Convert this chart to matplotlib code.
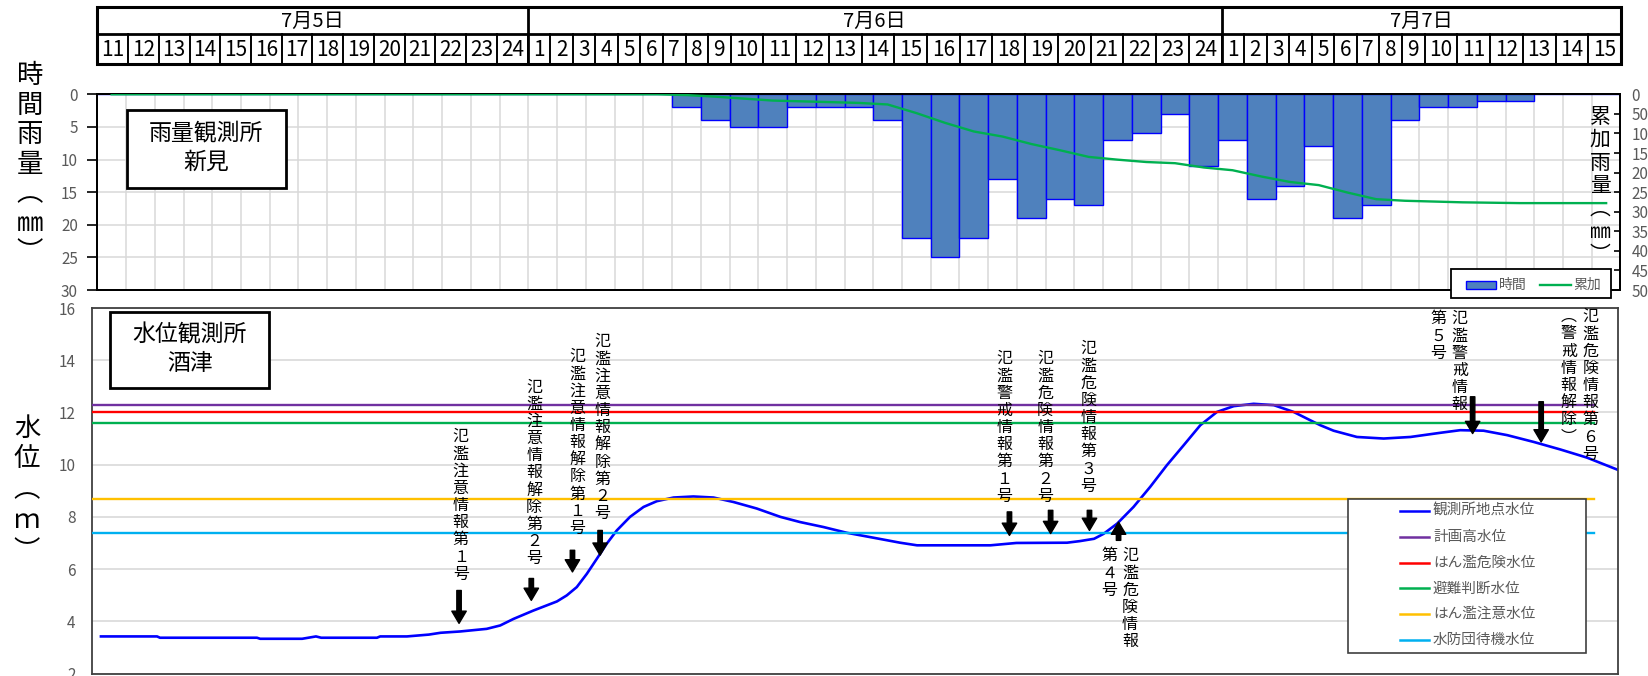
import numpy as np
import matplotlib
matplotlib.use("Agg")
import matplotlib.pyplot as plt
from matplotlib import transforms
from matplotlib.patches import Rectangle
from matplotlib.lines import Line2D

plt.rcParams['font.family'] = ['Noto Sans CJK JP', 'DejaVu Sans']

W, H = 1649, 676

# --- data ---
dates = ['7月5日', '7月6日', '7月7日']
hours_0705 = [11, 12, 13, 14, 15, 16, 17, 18, 19, 20, 21, 22, 23, 24]
hours_0706 = list(range(1, 25))
hours_0707 = list(range(1, 16))

# hourly rainfall (mm) at 新見, one value per hour column
rain_0705 = [0, 0, 0, 0, 0, 0, 0, 0, 0, 0, 0, 0, 0, 0]
rain_0706 = [0, 0, 0, 0, 0, 0, 2, 4, 5, 5, 2, 2, 2, 4, 22, 25, 22, 13, 19, 16, 17, 7, 6, 3]
rain_0707 = [11, 7, 16, 14, 8, 19, 17, 4, 2, 2, 1, 1, 0, 0, 0]

# water level at 酒津, hours since 7/5 10:00
wl_t = [0.30, 2.25, 2.35, 5.72, 5.83, 7.29, 7.77, 7.95, 9.89, 10.0, 10.93, 11.69,
        12.10, 12.78, 13.70, 14.17, 14.63, 15.32, 16.14, 16.48, 16.83, 17.18, 17.53,
        17.87, 18.22, 18.68, 19.15, 19.61, 20.19, 20.88, 21.58, 22.27, 23.08, 23.90,
        24.59, 25.40, 26.21, 27.14, 28.06, 28.65, 31.20, 32.10, 33.86, 34.30, 34.80,
        35.13, 35.60, 36.17, 36.75, 37.33, 37.91, 38.49, 39.07, 39.65, 40.34, 41.04,
        41.73, 42.31, 42.66, 43.12, 43.93, 44.86, 45.79, 46.83, 47.52, 48.33, 49.15,
        50.07, 51.00, 51.92, 53.02]
wl_m = [3.42, 3.42, 3.37, 3.37, 3.33, 3.33, 3.42, 3.37, 3.37, 3.42, 3.42, 3.49,
        3.56, 3.61, 3.71, 3.84, 4.09, 4.41, 4.76, 4.99, 5.31, 5.82, 6.40,
        6.97, 7.48, 8.00, 8.38, 8.60, 8.74, 8.78, 8.74, 8.57, 8.32, 8.00,
        7.80, 7.61, 7.39, 7.20, 7.01, 6.91, 6.91, 7.00, 7.01, 7.07, 7.16,
        7.35, 7.74, 8.38, 9.15, 9.98, 10.74, 11.51, 12.02, 12.24, 12.33, 12.28,
        12.02, 11.70, 11.51, 11.30, 11.06, 11.00, 11.06, 11.22, 11.32, 11.30, 11.13,
        10.87, 10.58, 10.27, 9.79]

level_names = ['計画高水位', 'はん濫危険水位', '避難判断水位', 'はん濫注意水位', '水防団待機水位']
level_values = [12.3, 12.0, 11.6, 8.7, 7.4]
level_t = [0.0, 52.15]

# flood information notices: arrow (time, tail, tip), text columns (text, time, top level)
notices = [
    (12.74, 5.18, 3.92, [('氾濫注意情報第１号', 12.80, 11.40)]),
    (15.25, 5.64, 4.80, [('氾濫注意情報解除第２号', 15.35, 13.31)]),
    (16.68, 6.72, 5.89, [('氾濫注意情報解除第１号', 16.85, 14.47)]),
    (17.64, 7.48, 6.53, [('氾濫注意情報解除第２号', 17.73, 15.04)]),
    (31.86, 8.19, 7.29, [('氾濫警戒情報第１号', 31.68, 14.39)]),
    (33.29, 8.25, 7.36, [('氾濫危険情報第２号', 33.10, 14.39)]),
    (34.64, 8.25, 7.48, [('氾濫危険情報第３号', 34.61, 14.77)]),
    (35.65, 7.10, 7.80, [('氾濫危険情報', 36.05, 6.84), ('第４号', 35.32, 6.84)]),
    (47.95, 12.60, 11.19, [('氾濫警戒情報', 47.50, 15.92), ('第５号', 46.77, 15.92)]),
    (50.33, 12.41, 10.87, [('氾濫危険情報第６号', 52.04, 16.0), ('︵警戒情報解除︶', 51.29, 16.0)]),
]

level_colors = ['#7030A0', '#FF0000', '#00B050', '#FFC000', '#00B0F0']
GRAY = '#595959'

fig = plt.figure(figsize=(W / 100, H / 100), dpi=100)
px = transforms.Affine2D().scale(1 / W, -1 / H).translate(0, 1) + fig.transFigure


def axes_px(x0, y0, x1, y1):
    return fig.add_axes([x0 / W, 1 - y1 / H, (x1 - x0) / W, (y1 - y0) / H])


def vtext(x, y, s, pitch, size, base, color='black'):
    # stacked (tategaki) text, one glyph per cell
    for k, ch in enumerate(s):
        off = transforms.ScaledTranslation(0, -(k + 0.5) * pitch / 100, fig.dpi_scale_trans)
        fig.text(x, y, ch, transform=base + off, ha='center', va='center',
                 fontsize=size, color=color)


# --- header table ---
hours_all = [hours_0705, hours_0706, hours_0707]
widths = []
for d, hrs in enumerate(hours_all):
    for h in hrs:
        widths.append(30.8 if d == 0 else (22.6 if h < 10 else 32.8))
widths = np.array(widths) * (1621 - 97.3) / sum(widths)
edges = 97.3 + np.concatenate([[0], np.cumsum(widths)])
t_top, t_mid, t_bot = 7, 34, 63.5
fig.add_artist(Rectangle((edges[0], t_top), edges[-1] - edges[0], t_bot - t_top,
                         transform=px, fill=False, ec='black', lw=2.2))
fig.add_artist(Line2D([edges[0], edges[-1]], [t_mid, t_mid], transform=px, color='black', lw=2))
k = 0
for d, hrs in enumerate(hours_all):
    left = edges[k]
    for h in hrs:
        fig.add_artist(Line2D([edges[k], edges[k]], [t_mid, t_bot], transform=px, color='black', lw=1.4))
        fig.text((edges[k] + edges[k + 1]) / 2, (t_mid + t_bot) / 2 + 1, str(h), transform=px,
                 ha='center', va='center', fontsize=15)
        k += 1
    fig.add_artist(Line2D([edges[k], edges[k]], [t_top, t_bot], transform=px, color='black', lw=2))
    fig.text((left + edges[k]) / 2, (t_top + t_mid) / 2 + 1, dates[d], transform=px,
             ha='center', va='center', fontsize=14.5)

# --- rainfall chart ---
rain = np.array(rain_0705 + rain_0706 + rain_0707)
idx = np.arange(len(rain))
axr = axes_px(97.3, 94.3, 1620.5, 290)
axr.bar(idx, rain, width=1, align='edge', color='#4F81BD', edgecolor='#0000FF', lw=1, zorder=2)
axr.set_xlim(0, len(rain))
axr.set_ylim(30, 0)
axr.set_yticks(range(0, 31, 5))
axr.set_xticks(range(0, len(rain) + 1))
axr.tick_params(axis='x', length=0, labelbottom=False)
axr.tick_params(axis='y', direction='out', length=7, width=1.2, pad=7, labelsize=11, labelcolor=GRAY)
axr.grid(True, color='#D9D9D9', lw=1.1)
axr.set_axisbelow(True)
for s in axr.spines.values():
    s.set_color('black')
    s.set_linewidth(1.4)

axr2 = axr.twinx()
axr2.plot(idx + 0.5, np.cumsum(rain), color='#00B050', lw=1.7, zorder=3)
axr2.set_ylim(500, 0)
axr2.set_yticks(range(0, 501, 50))
axr2.tick_params(axis='y', direction='in', length=4, width=1.2, pad=8, labelsize=11, labelcolor=GRAY)
for s in axr2.spines.values():
    s.set_color('black')
    s.set_linewidth(1.4)

# --- water level chart ---
axw = axes_px(92.3, 308, 1618, 673.5)
axw.plot(wl_t, wl_m, color='#0000FF', lw=1.9, zorder=2)
for v, c in zip(level_values, level_colors):
    axw.plot(level_t, [v, v], color=c, lw=1.7, zorder=3)
axw.set_xlim(0, 53)
axw.set_ylim(2, 16)
axw.set_yticks(range(2, 17, 2))
axw.set_xticks([])
axw.tick_params(axis='y', length=0, pad=12, labelsize=11, labelcolor=GRAY)
axw.grid(True, axis='y', color='#D9D9D9', lw=1.2)
axw.set_axisbelow(True)
for s in axw.spines.values():
    s.set_color('#404040')
    s.set_linewidth(1.3)

for t, v0, v1, cols in notices:
    axw.annotate('', xy=(t, v1), xytext=(t, v0), annotation_clip=False,
                 arrowprops=dict(arrowstyle='simple,head_length=0.55,head_width=0.65,tail_width=0.2',
                                 color='black', shrinkA=0, shrinkB=0, mutation_scale=16))
    for s, tx, vt in cols:
        vtext(tx, vt, s, 17.2, 11.5, axw.transData)

# --- axis titles ---
vtext(30, 61, '時間雨量︵㎜︶', 29.5, 19, px)
vtext(27, 412.5, '水位︵ｍ︶', 31, 19, px)
vtext(1600, 105.5, '累加雨量︵㎜︶', 23, 15, px)

# --- station boxes ---
fig.add_artist(Rectangle((126.8, 110), 158.9, 77.7, transform=px, fc='white', ec='black', lw=2, zorder=5))
fig.text(206.3, 133, '雨量観測所', transform=px, ha='center', va='center', fontsize=16.5, zorder=6)
fig.text(206.3, 162, '新見', transform=px, ha='center', va='center', fontsize=16.5, zorder=6)
fig.add_artist(Rectangle((110, 312.3), 159.3, 76, transform=px, fc='white', ec='black', lw=2, zorder=5))
fig.text(189.7, 335, '水位観測所', transform=px, ha='center', va='center', fontsize=16.5, zorder=6)
fig.text(189.7, 363, '酒津', transform=px, ha='center', va='center', fontsize=16.5, zorder=6)

# --- legends ---
fig.add_artist(Rectangle((1451, 269), 160, 29, transform=px, fc='white', ec='black', lw=1.3, zorder=10))
fig.add_artist(Rectangle((1466, 280.5), 30, 8, transform=px, fc='#4F81BD', ec='#0000FF', lw=1, zorder=11))
fig.text(1499, 284.5, '時間', transform=px, ha='left', va='center', fontsize=10, color=GRAY, zorder=11)
fig.add_artist(Line2D([1540, 1571], [284.5, 284.5], transform=px, color='#00B050', lw=1.7, zorder=11))
fig.text(1573, 284.5, '累加', transform=px, ha='left', va='center', fontsize=10, color=GRAY, zorder=11)

fig.add_artist(Rectangle((1348, 499), 238, 154, transform=px, fc='white', ec='#404040', lw=1.2, zorder=10))
leg_names = ['観測所地点水位'] + level_names
leg_colors = ['#0000FF'] + level_colors
for i, (name, c) in enumerate(zip(leg_names, leg_colors)):
    y = 511 + i * 25.8
    fig.add_artist(Line2D([1400, 1429], [y, y], transform=px, color=c, lw=1.8, zorder=11))
    fig.text(1433, y, name, transform=px, ha='left', va='center', fontsize=10.5, color=GRAY, zorder=11)

fig.savefig('out.png', dpi=100, facecolor='white')
